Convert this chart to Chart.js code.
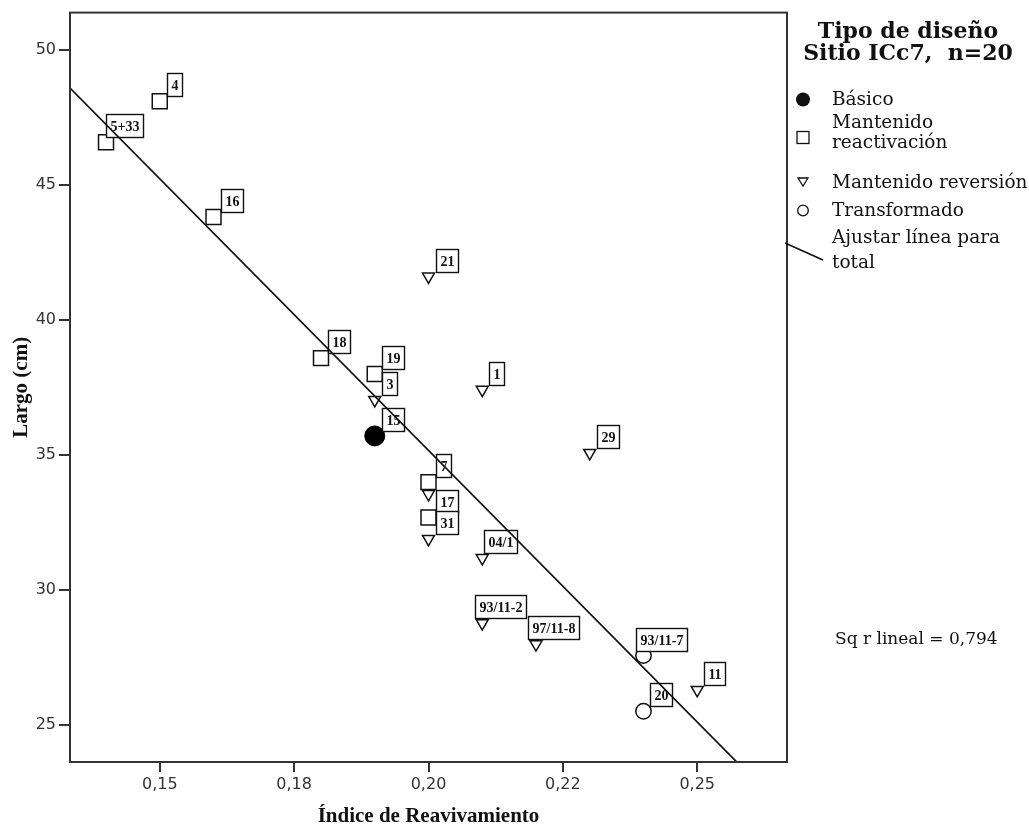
<!DOCTYPE html>
<html>
<head>
<meta charset="utf-8">
<title>Largo vs Índice de Reavivamiento</title>
<script src="https://cdn.jsdelivr.net/npm/chart.js@4.4.1/dist/chart.umd.min.js"></script>
<style>
  html, body { margin: 0; padding: 0; background: #fff; }
  #wrap { width: 1029px; height: 832px; }
</style>
</head>
<body>
<div id="wrap"><canvas id="scatterChart" width="1029" height="832"></canvas></div>
<script>
// Índice de reavivamiento (x) y largo en cm (y), por tipo de diseño
const basicoX = [0.190];
const basicoY = [35.71];
const basicoLabels = ['15'];

const reactivacionX = [0.140, 0.150, 0.160, 0.180, 0.190, 0.200, 0.200];
const reactivacionY = [46.58, 48.10, 43.81, 38.59, 38.00, 34.00, 32.69];
const reactivacionLabels = ['5+33', '4', '16', '18', '19', '7', '17'];

const reversionX = [0.190, 0.200, 0.210, 0.230, 0.200, 0.200, 0.210, 0.210, 0.220, 0.250];
const reversionY = [37.04, 41.61, 37.42, 35.08, 33.56, 31.90, 31.19, 28.78, 28.00, 26.31];
const reversionLabels = ['3', '21', '1', '29', '', '31', '04/1', '93/11-2', '97/11-8', '11'];

const transformadoX = [0.240, 0.240];
const transformadoY = [27.58, 25.52];
const transformadoLabels = ['93/11-7', '20'];

const xTickValues = [0.150, 0.175, 0.200, 0.225, 0.250];
const xTickLabels = ['0,15', '0,18', '0,20', '0,22', '0,25'];
const yTickValues = [25, 30, 35, 40, 45, 50];

const legendTitle = ['Tipo de diseño', 'Sitio ICc7,  n=20'];
const rSquaredText = 'Sq r lineal = 0,794';

const X_MIN = 0.1333, X_MAX = 0.2667;
const Y_MIN = 23.64, Y_MAX = 51.38;

const groups = [
    { xs: basicoX, ys: basicoY, labels: basicoLabels },
    { xs: reactivacionX, ys: reactivacionY, labels: reactivacionLabels },
    { xs: reversionX, ys: reversionY, labels: reversionLabels },
    { xs: transformadoX, ys: transformadoY, labels: transformadoLabels }
];

function toPoints(xs, ys) {
    return xs.map((x, i) => ({ x: x, y: ys[i] }));
}

// Recta de mínimos cuadrados para el total de los puntos
function linearFit() {
    const xs = [], ys = [];
    groups.forEach(g => { xs.push(...g.xs); ys.push(...g.ys); });
    const n = xs.length;
    const mx = xs.reduce((a, b) => a + b, 0) / n;
    const my = ys.reduce((a, b) => a + b, 0) / n;
    let sxy = 0, sxx = 0;
    for (let i = 0; i < n; i++) {
        sxy += (xs[i] - mx) * (ys[i] - my);
        sxx += (xs[i] - mx) * (xs[i] - mx);
    }
    const slope = sxy / sxx;
    return { slope: slope, intercept: my - slope * mx };
}

const fit = linearFit();
const fitLine = [X_MIN, X_MAX].map(x => ({ x: x, y: fit.intercept + fit.slope * x }));
const FIT_INDEX = 4;

const INK = '#111';

// Cajas con el número de cada pieza, dibujadas justo antes de la recta
const pointLabels = {
    id: 'pointLabels',
    beforeDatasetDraw(chart, args) {
        if (args.index !== FIT_INDEX) return;
        const ctx = chart.ctx;
        const xs = chart.scales.x, ys = chart.scales.y;
        ctx.save();
        ctx.font = 'bold 14px "Liberation Serif"';
        ctx.textAlign = 'center';
        ctx.textBaseline = 'middle';
        groups.forEach(g => {
            g.xs.forEach((xv, i) => {
                const text = g.labels[i];
                if (!text) return;
                const px = xs.getPixelForValue(xv);
                const py = ys.getPixelForValue(g.ys[i]);
                const w = Math.round(ctx.measureText(text).width + 8);
                const h = 23;
                const left = Math.round(px + Math.min(7, 18 - w / 2)) + 0.5;
                const top = Math.round(py - 5 - h) + 0.5;
                ctx.fillStyle = '#fff';
                ctx.fillRect(left, top, w, h);
                ctx.lineWidth = 1.4;
                ctx.strokeStyle = INK;
                ctx.strokeRect(left, top, w, h);
                ctx.fillStyle = INK;
                ctx.fillText(text, left + w / 2, top + h / 2 + 1);
            });
        });
        ctx.restore();
    }
};

// Marco del área de trazado
const plotFrame = {
    id: 'plotFrame',
    afterDraw(chart) {
        const { ctx, chartArea: a } = chart;
        ctx.save();
        ctx.strokeStyle = '#333';
        ctx.lineWidth = 2;
        ctx.strokeRect(a.left, a.top, a.right - a.left, a.bottom - a.top);
        ctx.restore();
    }
};

// Leyenda lateral y valor de R²
const sideLegend = {
    id: 'sideLegend',
    afterDraw(chart) {
        const ctx = chart.ctx;
        ctx.save();
        ctx.fillStyle = INK;
        ctx.strokeStyle = INK;
        ctx.textBaseline = 'middle';

        ctx.font = 'bold 22px "DejaVu Serif"';
        ctx.textAlign = 'center';
        ctx.fillText(legendTitle[0], 908, 32);
        ctx.fillText(legendTitle[1], 908, 54);

        ctx.font = '18.5px "DejaVu Serif"';
        ctx.textAlign = 'left';
        const tx = 832, mx = 803;

        // Básico
        ctx.beginPath();
        ctx.arc(mx, 99.5, 7, 0, Math.PI * 2);
        ctx.fill();
        ctx.fillText('Básico', tx, 100);

        // Mantenido reactivación
        ctx.lineWidth = 1.3;
        ctx.strokeRect(mx - 6, 131.5, 12, 12);
        ctx.fillText('Mantenido', tx, 123);
        ctx.fillText('reactivación', tx, 143);

        // Mantenido reversión
        ctx.beginPath();
        ctx.moveTo(mx - 5, 178);
        ctx.lineTo(mx + 5, 178);
        ctx.lineTo(mx, 186);
        ctx.closePath();
        ctx.stroke();
        ctx.fillText('Mantenido reversión', tx, 183);

        // Transformado
        ctx.beginPath();
        ctx.arc(mx, 210.5, 5.3, 0, Math.PI * 2);
        ctx.stroke();
        ctx.fillText('Transformado', tx, 211);

        // Ajustar línea para total
        ctx.lineWidth = 1.5;
        ctx.beginPath();
        ctx.moveTo(785, 243);
        ctx.lineTo(823, 260);
        ctx.stroke();
        ctx.fillText('Ajustar línea para', tx, 238);
        ctx.fillText('total', tx, 263);

        ctx.font = '17px "DejaVu Serif"';
        ctx.fillText(rSquaredText, 835, 640);
        ctx.restore();
    }
};

const ctx = document.getElementById('scatterChart').getContext('2d');
new Chart(ctx, {
    type: 'scatter',
    data: {
        datasets: [
            {
                label: 'Básico',
                data: toPoints(basicoX, basicoY),
                pointStyle: 'circle',
                pointRadius: 10,
                backgroundColor: '#000',
                borderColor: '#000',
                borderWidth: 1,
                order: 2
            },
            {
                label: 'Mantenido reactivación',
                data: toPoints(reactivacionX, reactivacionY),
                pointStyle: 'rect',
                pointRadius: 10.6,
                backgroundColor: 'rgba(0,0,0,0)',
                borderColor: INK,
                borderWidth: 1.5,
                order: 2
            },
            {
                label: 'Mantenido reversión',
                data: toPoints(reversionX, reversionY),
                pointStyle: 'triangle',
                pointRotation: 180,
                pointRadius: 6.9,
                backgroundColor: 'rgba(0,0,0,0)',
                borderColor: INK,
                borderWidth: 1.5,
                order: 2
            },
            {
                label: 'Transformado',
                data: toPoints(transformadoX, transformadoY),
                pointStyle: 'circle',
                pointRadius: 7.7,
                backgroundColor: 'rgba(0,0,0,0)',
                borderColor: INK,
                borderWidth: 1.5,
                order: 2
            },
            {
                label: 'Ajustar línea para total',
                type: 'line',
                data: fitLine,
                showLine: true,
                pointRadius: 0,
                borderColor: INK,
                borderWidth: 1.7,
                fill: false,
                order: 0
            }
        ]
    },
    options: {
        responsive: false,
        animation: false,
        devicePixelRatio: 1,
        layout: { padding: { top: 9, right: 242, left: 0, bottom: 0 } },
        plugins: {
            legend: { display: false },
            tooltip: { enabled: false }
        },
        scales: {
            x: {
                type: 'linear',
                position: 'bottom',
                min: X_MIN,
                max: X_MAX,
                afterBuildTicks: s => { s.ticks = xTickValues.map(v => ({ value: v })); },
                afterFit: s => { s.height = 70; },
                ticks: {
                    callback: v => xTickLabels[xTickValues.indexOf(v)],
                    font: { family: 'DejaVu Sans', size: 16 },
                    color: '#333',
                    padding: 3,
                    maxRotation: 0,
                    autoSkip: false
                },
                grid: { drawOnChartArea: false, drawTicks: true, tickLength: 10, color: '#333', lineWidth: 2 },
                border: { display: true, color: '#333', width: 2 },
                title: {
                    display: true,
                    text: 'Índice de Reavivamiento',
                    font: { family: 'Liberation Serif', size: 21, weight: 'bold' },
                    color: INK,
                    padding: { top: 0, bottom: 2.5 }
                }
            },
            y: {
                type: 'linear',
                min: Y_MIN,
                max: Y_MAX,
                afterBuildTicks: s => { s.ticks = yTickValues.map(v => ({ value: v })); },
                afterFit: s => { s.width = 70; },
                ticks: {
                    callback: v => String(v),
                    font: { family: 'DejaVu Sans', size: 16 },
                    color: '#333',
                    padding: 3
                },
                grid: { drawOnChartArea: false, drawTicks: true, tickLength: 11, color: '#333', lineWidth: 2 },
                border: { display: true, color: '#333', width: 2 },
                title: {
                    display: true,
                    text: 'Largo (cm)',
                    font: { family: 'Liberation Serif', size: 21, weight: 'bold' },
                    color: INK,
                    padding: { top: 8.6, bottom: 0 }
                }
            }
        }
    },
    plugins: [pointLabels, plotFrame, sideLegend]
});
</script>
</body>
</html>
